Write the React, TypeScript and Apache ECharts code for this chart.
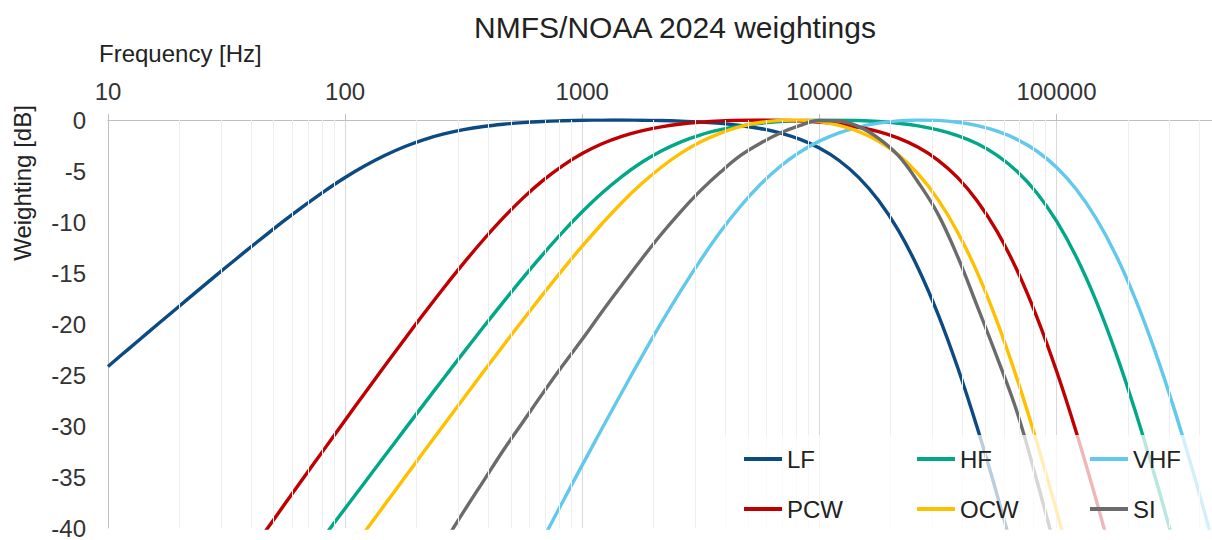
import React, { useEffect, useRef } from "react";
import * as echarts from "echarts";

// Frequencies (Hz) at which the curves were read (twelve steps per decade)
const FREQS = [
  10, 12.12, 14.68, 17.78, 21.54, 26.1, 31.62, 38.31, 46.42, 56.23, 68.13, 82.54,
  100, 121.2, 146.8, 177.8, 215.4, 261.0, 316.2, 383.1, 464.2, 562.3, 681.3, 825.4,
  1000, 1212, 1468, 1778, 2154, 2610, 3162, 3831, 4642, 5623, 6813, 8254,
  10000, 12115, 14678, 17783, 21544, 26102, 31623, 38312, 46416, 56234, 68129, 82540,
  100000, 121153, 146780, 177828, 215443, 261016, 316228, 383119, 464159,
];

// Weighting values (dB) per hearing group, aligned with FREQS (null = outside the plotted range)
const LF = [
  -24.16, -22.51, -20.87, -19.24, -17.61, -15.99, -14.39, -12.81, -11.26, -9.75, -8.3, -6.92,
  -5.64, -4.49, -3.48, -2.62, -1.92, -1.37, -0.95, -0.64, -0.42, -0.26, -0.15, -0.08,
  -0.03, -0.01, 0.0, -0.02, -0.05, -0.11, -0.2, -0.33, -0.54, -0.83, -1.26, -1.88,
  -2.75, -3.97, -5.65, -7.9, -10.83, -14.53, -19.01, -24.27, -30.23, -36.78, -43.8, null,
  null, null, null, null, null, null, null, null, null,
];
const HF = [
  null, null, null, null, null, null, null, null, null, null, -43.24, -40.66,
  -38.08, -35.51, -32.94, -30.38, -27.83, -25.29, -22.78, -20.3, -17.86, -15.48, -13.19, -11.02,
  -9.0, -7.16, -5.55, -4.17, -3.04, -2.14, -1.45, -0.95, -0.58, -0.33, -0.16, -0.06,
  -0.01, -0.01, -0.05, -0.15, -0.32, -0.58, -0.97, -1.53, -2.33, -3.47, -5.03, -7.13,
  -9.9, -13.41, -17.71, -22.8, -28.61, -35.04, -41.96, null, null,
];
const VHF = [
  null, null, null, null, null, null, null, null, null, null, null, null,
  null, null, null, null, null, null, null, null, null, null, -41.13, -37.47,
  -33.84, -30.25, -26.72, -23.25, -19.9, -16.7, -13.71, -10.94, -8.48, -6.35, -4.58, -3.16,
  -2.07, -1.26, -0.69, -0.31, -0.09, 0.0, -0.04, -0.22, -0.56, -1.1, -1.9, -3.04,
  -4.63, -6.79, -9.62, -13.2, -17.58, -22.73, -28.59, -35.07, -42.04,
];
const PCW = [
  null, null, null, null, null, null, -45.64, -42.93, -40.22, -37.51, -34.81, -32.12,
  -29.43, -26.77, -24.12, -21.51, -18.95, -16.44, -14.03, -11.74, -9.6, -7.66, -5.95, -4.49,
  -3.29, -2.33, -1.6, -1.06, -0.67, -0.39, -0.21, -0.09, -0.02, 0.0, -0.02, -0.09,
  -0.22, -0.41, -0.71, -1.15, -1.78, -2.68, -3.93, -5.65, -7.96, -10.95, -14.71, -19.27,
  -24.59, -30.59, -37.19, -44.26, null, null, null, null, null,
];
const OCW = [
  null, null, null, null, null, null, null, null, null, null, null, null,
  -42.98, -40.35, -37.73, -35.1, -32.48, -29.87, -27.27, -24.69, -22.13, -19.6, -17.12, -14.69,
  -12.37, -10.17, -8.11, -6.26, -4.63, -3.25, -2.14, -1.28, -0.66, -0.25, -0.04, 0.0,
  -0.16, -0.52, -1.14, -2.08, -3.42, -5.29, -7.78, -11.0, -14.99, -19.79, -25.33, -31.55,
  -38.29, -45.47, null, null, null, null, null, null, null,
];
const SI = [
  null, null, null, null, null, null, null, null, null, null, null, null,
  null, null, null, null, -44.7, -41.5, -38.4, -35.4, -32.4, -29.6, -26.8, -24.1,
  -21.5, -18.8, -16.2, -13.65, -11.2, -8.95, -6.9, -5.1, -3.5, -2.3, -1.3, -0.55,
  -0.05, -0.1, -0.65, -1.8, -3.5, -6.1, -9.2, -13.4, -18.3, -23.3, -28.6, -35.3,
  -42.5, null, null, null, null, null, null, null, null,
];

const SERIES_NAMES = ["LF", "HF", "VHF", "PCW", "OCW", "SI"];
const SERIES_VALUES = [LF, HF, VHF, PCW, OCW, SI];
const SERIES_COLORS = ["#0B4A82", "#00A887", "#62C8EC", "#C00000", "#FFC000", "#6B6B6B"];

// Minor (2..9 per decade) vertical grid positions
const MINOR_GRID = [
  20, 30, 40, 50, 60, 70, 80, 90,
  200, 300, 400, 500, 600, 700, 800, 900,
  2000, 3000, 4000, 5000, 6000, 7000, 8000, 9000,
  20000, 30000, 40000, 50000, 60000, 70000, 80000, 90000,
  200000, 300000, 400000,
];

const LEGEND_COLUMNS = [
  ["LF", "PCW"],
  ["HF", "OCW"],
  ["VHF", "SI"],
];

const FONT = "'Liberation Sans', Arial, sans-serif";

function toPairs(vals: (number | null)[]) {
  const out: [number, number][] = [];
  FREQS.forEach((f, i) => {
    const v = vals[i];
    if (v !== null && v !== undefined) out.push([f, v]);
  });
  return out;
}

export default function App() {
  const ref = useRef<HTMLDivElement>(null);

  useEffect(() => {
    if (!ref.current) return;
    const chart = echarts.init(ref.current, null, { renderer: "svg" });

    const lineSeries = SERIES_NAMES.map((name, i) => ({
      name,
      type: "line",
      data: toPairs(SERIES_VALUES[i]),
      smooth: 0.4,
      showSymbol: false,
      symbol: "none",
      color: SERIES_COLORS[i],
      lineStyle: { color: SERIES_COLORS[i], width: 3.4 },
      z: 2,
      clip: true,
      emphasis: { disabled: true },
    }));

    const option: any = {
      animation: false,
      backgroundColor: "#ffffff",
      textStyle: { fontFamily: FONT },
      grid: { left: 108, top: 120, right: 0, bottom: 9, containLabel: false },
      xAxis: {
        type: "log",
        logBase: 10,
        min: 10,
        max: 452900,
        position: "top",
        axisLine: { show: true, onZero: false, lineStyle: { color: "#bfbfbf", width: 1 } },
        axisTick: { show: true, length: 6, lineStyle: { color: "#bfbfbf" } },
        axisLabel: {
          fontSize: 24,
          color: "#333333",
          margin: 17,
          showMaxLabel: false,
          fontFamily: FONT,
          formatter: (v: number) => String(Math.round(v)),
        },
        splitLine: { show: true, lineStyle: { color: "#d9d9d9", width: 1 } },
      },
      yAxis: {
        type: "value",
        min: -40,
        max: 0,
        interval: 5,
        axisLine: { show: true, lineStyle: { color: "#bfbfbf", width: 1 } },
        axisTick: { show: false },
        axisLabel: { fontSize: 24, color: "#333333", margin: 22, fontFamily: FONT },
        splitLine: { show: false },
      },
      legend: LEGEND_COLUMNS.map((items, c) => ({
        data: items,
        orient: "vertical",
        left: 744 + c * 173,
        top: 447,
        itemGap: 26,
        itemWidth: 38,
        itemHeight: 4,
        icon: "rect",
        padding: 0,
        z: 20,
        selectedMode: false,
        textStyle: { fontSize: 24, color: "#222222", fontFamily: FONT },
      })),
      graphic: {
        elements: [
          {
            type: "rect",
            silent: true,
            z: 10,
            shape: { x: 723, y: 435, width: 489, height: 105 },
            style: { fill: "rgba(255,255,255,0.72)" },
          },
          {
            type: "text",
            z: 30,
            x: 675,
            y: 27,
            style: {
              text: "NMFS/NOAA 2024 weightings",
              font: `30px ${FONT}`,
              fill: "#222222",
              textAlign: "center",
              textVerticalAlign: "middle",
            },
          },
          {
            type: "text",
            z: 30,
            x: 99,
            y: 53,
            style: {
              text: "Frequency [Hz]",
              font: `24px ${FONT}`,
              fill: "#222222",
              textAlign: "left",
              textVerticalAlign: "middle",
            },
          },
          {
            type: "text",
            z: 30,
            x: 22,
            y: 183,
            rotation: Math.PI / 2,
            style: {
              text: "Weighting [dB]",
              font: `24px ${FONT}`,
              fill: "#222222",
              textAlign: "center",
              textVerticalAlign: "middle",
            },
          },
        ],
      },
      series: [
        {
          name: "minor-grid",
          type: "line",
          data: [],
          silent: true,
          z: 1,
          markLine: {
            silent: true,
            symbol: ["none", "none"],
            label: { show: false },
            lineStyle: { color: "#eeeeee", width: 1, type: "solid" },
            emphasis: { disabled: true },
            data: MINOR_GRID.map((v) => ({ xAxis: v })),
          },
        },
        ...lineSeries,
      ],
    };

    chart.setOption(option);
    return () => chart.dispose();
  }, []);

  return (
    <div
      ref={ref}
      style={{ position: "fixed", left: 0, top: 0, width: 1212, height: 540, background: "#fff" }}
    />
  );
}
